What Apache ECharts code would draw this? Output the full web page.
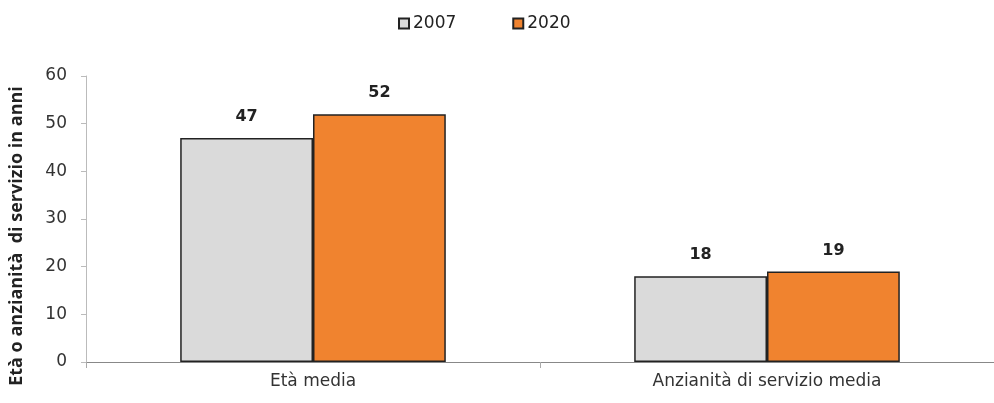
<!DOCTYPE html>
<html>
<head>
<meta charset="utf-8">
<script src="https://cdn.jsdelivr.net/npm/echarts@6/dist/echarts.min.js"></script>
<style>
  html, body { margin: 0; padding: 0; background: #fff; }
  #chart { width: 994px; height: 403px; }
</style>
</head>
<body>
<div id="chart"></div>
<script>
const categories = ['Età media', 'Anzianità di servizio media'];
const seriesNames = ['2007', '2020'];
const values2007 = [47, 18];
const values2020 = [52, 19];

const chart = echarts.init(document.getElementById('chart'));
const wide = 'DejaVu Sans, sans-serif';

const option = {
  animation: false,
  textStyle: { fontFamily: wide },
  legend: {
    top: 10,
    left: 393,
    itemGap: 56,
    itemWidth: 10,
    itemHeight: 10,
    icon: 'rect',
    textStyle: { fontSize: 17, color: '#222', fontFamily: wide, padding: [0, 0, 0, -1] },
    data: seriesNames
  },
  grid: { left: 83, right: 0, top: 76, bottom: 41, containLabel: false },
  xAxis: {
    type: 'category',
    data: categories,
    axisLine: { lineStyle: { color: '#888' } },
    axisTick: { show: true, lineStyle: { color: '#aaa' }, length: 6 },
    axisLabel: { fontSize: 17, color: '#333', margin: 11, fontFamily: wide }
  },
  yAxis: {
    type: 'value',
    min: 0,
    max: 60,
    interval: 10,
    name: 'Età o anzianità  di servizio in anni',
    nameLocation: 'middle',
    nameGap: 60,
    nameTextStyle: { fontSize: 18, fontWeight: 'bold', color: '#222', fontFamily: 'Open Sans, sans-serif', padding: [0, 34, 0, 0] },
    axisLine: { show: true, lineStyle: { color: '#bbb' } },
    axisTick: { show: true, length: 5, lineStyle: { color: '#bbb' } },
    axisLabel: { fontSize: 17, color: '#333', margin: 19, fontFamily: wide },
    splitLine: { show: false }
  },
  series: [
    {
      name: seriesNames[0],
      type: 'bar',
      data: values2007,
      barGap: '0%',
      barCategoryGap: '41.5%',
      itemStyle: { color: '#dadada', borderColor: '#222', borderWidth: 1.5 },
      label: { show: true, position: 'top', distance: 13, fontSize: 16, fontWeight: 'bold', color: '#222', fontFamily: wide }
    },
    {
      name: seriesNames[1],
      type: 'bar',
      data: values2020,
      itemStyle: { color: '#f0832f', borderColor: '#222', borderWidth: 1.5 },
      label: { show: true, position: 'top', distance: 13, fontSize: 16, fontWeight: 'bold', color: '#222', fontFamily: wide }
    }
  ]
};

chart.setOption(option);
</script>
</body>
</html>
